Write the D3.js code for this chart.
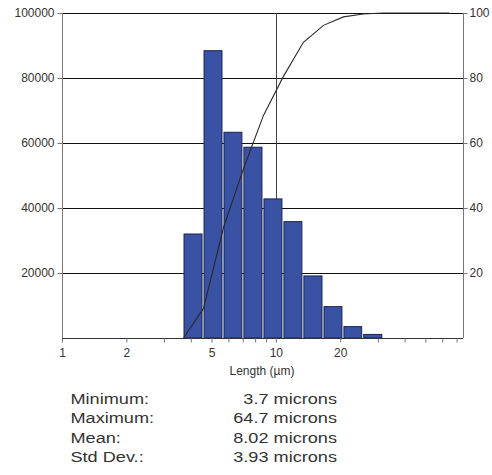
<!DOCTYPE html>
<html><head><meta charset="utf-8">
<script src="https://cdn.jsdelivr.net/npm/d3@7"></script>
<style>
body{margin:0;background:#fff;}
text{font-family:"Liberation Sans",Arial,sans-serif;fill:#333;}
</style></head>
<body><svg id="c" width="492" height="475"></svg>
<script>
// Bin edges (µm) and counts
const binEdges = [3.7, 4.59, 5.69, 7.05, 8.75, 10.85, 13.45, 16.7, 20.7, 25.6, 31.8];
const counts = [32000, 88400, 63300, 58700, 42800, 35800, 19100, 9650, 3500, 1100];
// Cumulative percentage curve (µm, %)
const cumX = [3.7, 4.59, 5.69, 7.05, 8.75, 10.85, 13.45, 16.7, 20.7, 25.6, 31.8, 64.7];
const cumPct = [0, 9.1, 34, 52, 68.5, 80.5, 91, 96.2, 98.8, 99.7, 100, 100];
// Axis ticks
const leftTicks = [20000, 40000, 60000, 80000, 100000];
const rightTicks = [20, 40, 60, 80, 100];
const xTicks = [1,2,3,4,5,6,7,8,9,10,20,30,40,50,60,70];
const xLabels = [1,2,5,10,20];
const xGrid = [10];
const statLabels = ["Minimum:", "Maximum:", "Mean:", "Std Dev.:"];
const statValues = ["3.7 microns", "64.7 microns", "8.02 microns", "3.93 microns"];

const svg = d3.select("#c");
const L = 62, R = 463, T = 13, B = 338;
const x = d3.scaleLog().domain([1, 75]).range([L, R]);
const y = d3.scaleLinear().domain([0, 100000]).range([B, T]);
const y2 = d3.scaleLinear().domain([0, 100]).range([B, T]);

// gridlines
svg.append("g").selectAll("line").data(leftTicks).join("line")
  .attr("x1", L).attr("x2", R).attr("y1", d => y(d)).attr("y2", d => y(d))
  .attr("stroke", "#111").attr("stroke-width", 1).attr("shape-rendering","crispEdges");
svg.append("g").selectAll("line").data(xGrid).join("line")
  .attr("x1", d => Math.round(x(d))+0.5).attr("x2", d => Math.round(x(d))+0.5).attr("y1", T).attr("y2", B)
  .attr("stroke", "#444").attr("stroke-width", 1);

// bars
svg.append("g").selectAll("rect").data(counts).join("rect")
  .attr("x", (d,i) => x(binEdges[i]) + 0.5)
  .attr("width", (d,i) => x(binEdges[i+1]) - x(binEdges[i]) - 2)
  .attr("y", d => y(d))
  .attr("height", d => B - y(d))
  .attr("fill", "#3a52a3").attr("stroke", "#1c2450").attr("stroke-width", 1);

// cumulative line
const line = d3.line().x((d,i) => x(cumX[i])).y(d => y2(d));
svg.append("path").datum(cumPct).attr("d", line)
  .attr("fill", "none").attr("stroke", "#2a2a2a").attr("stroke-width", 1.1);

const tickFont = "12px";
// left axis
const gl = svg.append("g").attr("transform", `translate(${L+0.5},0)`)
  .call(d3.axisLeft(y).tickValues(leftTicks).tickSize(5).tickPadding(3).tickFormat(d3.format("d")));
gl.select(".domain").attr("stroke", "#777").attr("d", `M0,${T}V${B}`);
gl.selectAll(".tick line").attr("stroke", "#777");
gl.selectAll(".tick text").style("font-size", tickFont).attr("fill", "#333").style("font-family","Liberation Sans, Arial, sans-serif");

// right axis
const gr = svg.append("g").attr("transform", `translate(${R+0.5},0)`)
  .call(d3.axisRight(y2).tickValues(rightTicks).tickSize(4).tickPadding(2));
gr.select(".domain").attr("stroke", "#777").attr("d", `M0,${T}V${B}`);
gr.selectAll(".tick line").attr("stroke", "#777");
gr.selectAll(".tick text").style("font-size", tickFont).attr("fill", "#333").style("font-family","Liberation Sans, Arial, sans-serif");

// bottom axis
const gb = svg.append("g").attr("transform", `translate(0,${B+0.5})`)
  .call(d3.axisBottom(x).tickValues(xTicks).tickSize(4).tickPadding(6)
    .tickFormat(d => xLabels.includes(d) ? d : ""));
gb.select(".domain").attr("stroke", "#333").attr("d", `M${L},0H${R}`);
gb.selectAll(".tick line").attr("stroke", "#777");
gb.selectAll(".tick text").style("font-size", tickFont).attr("fill", "#333").style("font-family","Liberation Sans, Arial, sans-serif");

svg.append("text").attr("x", 262).attr("y", 375).attr("text-anchor", "middle")
  .style("font-size", "12px").text("Length (µm)");

// stats
const sg = svg.append("g").attr("transform", "translate(70.5,0) scale(1.21,1)");
sg.selectAll("text.lab").data(statLabels).join("text").attr("class","lab")
  .attr("x", 0).attr("y", (d,i) => 404 + i*19.4)
  .style("font-size", "15px").text(d => d);
const sv = svg.append("g").attr("transform", "translate(337,0) scale(1.21,1)");
sv.selectAll("text.val").data(statValues).join("text").attr("class","val")
  .attr("x", 0).attr("y", (d,i) => 404 + i*19.4).attr("text-anchor","end")
  .style("font-size", "15px").text(d => d);
</script></body></html>
